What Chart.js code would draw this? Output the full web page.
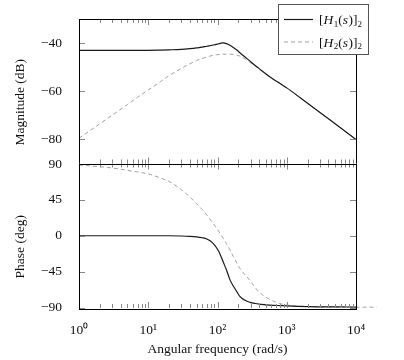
<!DOCTYPE html>
<html>
<head>
<meta charset="utf-8">
<style>
  html, body { margin: 0; background: #fff; }
  #wrap { width: 404px; height: 360px; }
</style>
</head>
<body>
<div id="wrap"><canvas id="bode"></canvas></div>
<script src="https://cdn.jsdelivr.net/npm/chart.js@4.4.0/dist/chart.umd.min.js"></script>
<script>
// frequencies (rad/s)
const freq = [1, 2, 3, 5, 7, 10, 15, 20, 30, 40, 50, 60, 70, 80, 87, 100, 110, 121, 135, 151, 169, 190, 210, 250, 295, 350, 400, 460, 500, 640, 800, 1000, 2000, 5000, 10000];
// magnitude (dB)
const magH1 = [-43, -43, -43, -43, -43, -43, -42.9, -42.8, -42.6, -42.3, -42, -41.7, -41.3, -41, -40.8, -40.4, -40.1, -39.9, -40.2, -40.9, -41.8, -42.9, -44, -45.8, -47.5, -49.3, -50.6, -52, -52.8, -55, -56.8, -58.6, -65, -73.5, -80];
const magH2 = [-79.5, -73.5, -70, -65.5, -62.5, -59.5, -56, -53.5, -50.5, -48.6, -47.2, -46.4, -45.8, -45.3, -45.1, -44.8, -44.7, -44.6, -44.6, -44.6, -44.7, -45, -45.4, -46.6, -48, -49.5, -50.7, -52, -52.8, -55, -56.8, -58.6, -65, -73.5, -80];
// phase (deg)
const phaseH1 = [0, 0, 0, 0, 0, 0, 0, 0, -0.3, -0.8, -1.5, -2.5, -4, -7, -10, -17, -24, -33, -43, -55, -63, -70, -76, -81, -83.5, -85, -85.8, -86.3, -86.6, -87.2, -87.6, -88, -88.8, -89.2, -89.4];
const phaseH2 = [88.7, 86.6, 85, 82, 80, 77.5, 72.5, 68, 58, 48.5, 40, 33, 26, 19.5, 15, 8, 2.5, -3, -10, -17.5, -26, -34, -41, -49, -56, -65, -70.5, -75, -77, -82, -85, -87, -88.7, -89.3, -89.5];
// H2 phase curve runs on past the right edge
const phaseH2Tail = [20000, -89.6];

const xTicks = [1, 10, 100, 1000, 10000];
const magTicks = [-80, -60, -40];
const phaseTicks = [-90, -45, 0, 45, 90];
const yTitles = ['Magnitude (dB)', 'Phase (deg)'];
const xTitle = 'Angular frequency (rad/s)';

const serif = "'Liberation Serif', 'Times New Roman', serif";
const sup = ['\u2070', '\u00b9', '\u00b2', '\u00b3', '\u2074'];
const pts = (ys) => freq.map((f, i) => ({x: f, y: ys[i]}));
const solid = {borderColor: '#1a1a1a', borderWidth: 1.2, pointRadius: 0, cubicInterpolationMode: 'monotone'};
const dashed = {borderColor: '#a0a0a0', borderWidth: 1, borderDash: [4, 3], pointRadius: 0, cubicInterpolationMode: 'monotone'};

// inward ticks, frames, y titles and legend
const frame = {
  id: 'frame',
  afterDatasetsDraw(chart) {
    const ctx = chart.ctx, x = chart.scales.x;
    ctx.save();
    ctx.lineWidth = 1;
    ['mag', 'ph'].forEach((id) => {
      const s = chart.scales[id];
      ctx.strokeStyle = '#888';
      ctx.beginPath();
      for (let d = 0; d < 4; d++) {
        for (let m = 1; m <= 9; m++) {
          const px = Math.round(x.getPixelForValue(m * Math.pow(10, d))) + 0.5;
          const len = m === 1 ? 6 : 4;
          ctx.moveTo(px, s.top); ctx.lineTo(px, s.top + len);
          ctx.moveTo(px, s.bottom); ctx.lineTo(px, s.bottom - len);
        }
      }
      const pr = Math.round(x.right) + 0.5;
      ctx.moveTo(pr, s.top); ctx.lineTo(pr, s.top + 6);
      ctx.moveTo(pr, s.bottom); ctx.lineTo(pr, s.bottom - 6);
      s.ticks.forEach((t) => {
        const py = Math.round(s.getPixelForValue(t.value)) + 0.5;
        ctx.moveTo(x.left, py); ctx.lineTo(x.left + 6, py);
        ctx.moveTo(x.right, py); ctx.lineTo(x.right - 6, py);
      });
      ctx.stroke();
      ctx.strokeStyle = '#000';
      ctx.strokeRect(Math.round(x.left) + 0.5, Math.round(s.top) + 0.5,
        Math.round(x.right - x.left), Math.round(s.bottom - s.top));
    });
    ctx.restore();
  },
  afterDraw(chart) {
    const ctx = chart.ctx;
    ctx.save();
    ctx.fillStyle = '#111';
    ctx.font = '13.5px ' + serif;
    ctx.textAlign = 'center';
    ctx.textBaseline = 'middle';
    ['mag', 'ph'].forEach((id, i) => {
      const s = chart.scales[id];
      ctx.save();
      ctx.translate(20, (s.top + s.bottom) / 2 + 11);
      ctx.rotate(-Math.PI / 2);
      ctx.fillText(yTitles[i], 0, 0);
      ctx.restore();
    });
    // legend box
    const bx = 278.5, by = 4.5, bw = 90, bh = 50;
    ctx.fillStyle = '#fff';
    ctx.fillRect(bx, by, bw, bh);
    ctx.strokeStyle = '#555';
    ctx.lineWidth = 1;
    ctx.strokeRect(bx, by, bw, bh);
    const legendDs = chart.data.datasets.slice(0, 2);
    legendDs.forEach((ds, i) => {
      const ly = 19.5 + i * 22.5;
      ctx.save();
      ctx.strokeStyle = ds.borderColor;
      ctx.lineWidth = ds.borderWidth;
      ctx.setLineDash(ds.borderDash || []);
      ctx.beginPath();
      ctx.moveTo(284, ly); ctx.lineTo(313, ly);
      ctx.stroke();
      ctx.restore();
      const parts = [['[', 0], ['H', 1], [String(i + 1), 2], ['(', 0], ['s', 1], [')]', 0], ['2', 2]];
      let tx = 319;
      ctx.textAlign = 'left';
      ctx.textBaseline = 'alphabetic';
      ctx.fillStyle = '#111';
      parts.forEach(([t, k]) => {
        ctx.font = (k === 1 ? 'italic ' : '') + (k === 2 ? '9px ' : '13.5px ') + serif;
        ctx.fillText(t, tx, ly + (k === 2 ? 7 : 4.5));
        tx += ctx.measureText(t).width + (k === 1 ? 0.5 : 0);
      });
    });
    ctx.restore();
  }
};

new Chart(document.getElementById('bode'), {
  type: 'line',
  data: {
    datasets: [
      Object.assign({label: '[H1(s)]2', data: pts(magH1), yAxisID: 'mag'}, solid),
      Object.assign({label: '[H2(s)]2', data: pts(magH2), yAxisID: 'mag'}, dashed),
      Object.assign({label: 'phase H1', data: pts(phaseH1), yAxisID: 'ph'}, solid),
      Object.assign({label: 'phase H2', data: pts(phaseH2).concat([{x: phaseH2Tail[0], y: phaseH2Tail[1]}]), yAxisID: 'ph', clip: false}, dashed)
    ]
  },
  options: {
    animation: false,
    responsive: true,
    maintainAspectRatio: false,
    layout: {padding: {top: 19, right: 48, left: 0, bottom: 0}},
    plugins: {legend: {display: false}, tooltip: {enabled: false}},
    scales: {
      x: {
        type: 'logarithmic',
        // range fixed here (not via min/max) so the tail point past 10^4 is still drawn
        afterDataLimits: (s) => { s.min = 1; s.max = 10000; },
        grid: {display: false}, border: {display: false},
        afterBuildTicks: (s) => { s.ticks = xTicks.map((v) => ({value: v})); },
        afterFit: (s) => { s.height = 52; },
        ticks: {
          padding: 6, color: '#111', font: {family: serif, size: 13.5}, maxRotation: 0, autoSkip: false,
          callback: (v) => '10' + sup[Math.round(Math.log10(v))]
        },
        title: {display: true, text: xTitle, color: '#111', font: {family: serif, size: 13.5}, padding: {top: 0, bottom: 2}}
      },
      ph: {
        type: 'linear', position: 'left', stack: 'bode', stackWeight: 1, min: -90.6, max: 90.6,
        grid: {display: false}, border: {display: false},
        afterBuildTicks: (s) => { s.ticks = phaseTicks.map((v) => ({value: v})); },
        afterFit: (s) => { s.width = 79; },
        ticks: {padding: 9, color: '#111', font: {family: serif, size: 13.5},
          callback: (v) => v < 0 ? '\u2212' + Math.abs(v) : String(v)}
      },
      mag: {
        type: 'linear', position: 'left', stack: 'bode', stackWeight: 1, min: -90, max: -30,
        grid: {display: false}, border: {display: false},
        afterBuildTicks: (s) => { s.ticks = magTicks.map((v) => ({value: v})); },
        afterFit: (s) => { s.width = 79; },
        ticks: {padding: 9, color: '#111', font: {family: serif, size: 13.5},
          callback: (v) => v < 0 ? '\u2212' + Math.abs(v) : String(v)}
      }
    }
  },
  plugins: [frame]
});
</script>
</body>
</html>
